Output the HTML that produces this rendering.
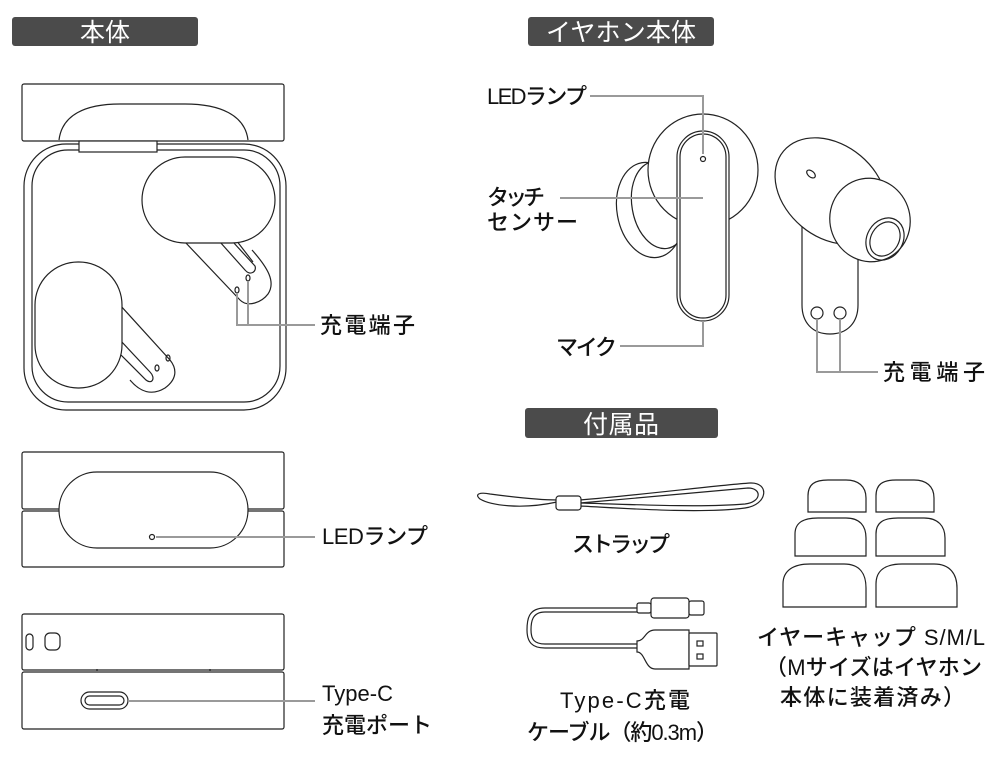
<!DOCTYPE html>
<html><head><meta charset="utf-8"><style>
html,body{margin:0;padding:0;background:#fff;width:1000px;height:765px;overflow:hidden}
svg{display:block}
text{font-family:"Liberation Sans","Noto Sans CJK JP",sans-serif;font-size:22px;fill:#111;font-weight:500}
.h{fill:#fff;font-size:25px;text-anchor:middle;font-weight:400}
.o{fill:none;stroke:#222;stroke-width:1.2}
.w{fill:#fff;stroke:#222;stroke-width:1.2}
.c{fill:none;stroke:#9a9a9a;stroke-width:2}
</style></head><body>
<svg width="1000" height="765" viewBox="0 0 1000 765">
<rect x="12" y="17" width="186" height="29" rx="3" fill="#4b4b4b"/>
<text class="h" x="105" y="41" textLength="50">本体</text>
<rect x="528" y="17" width="186" height="29" rx="3" fill="#4b4b4b"/>
<text class="h" x="621" y="41" textLength="150">イヤホン本体</text>
<rect x="525" y="408" width="193" height="30" rx="3" fill="#4b4b4b"/>
<text class="h" x="621" y="433" textLength="76">付属品</text>

<rect class="o" x="22" y="84" width="262" height="57" rx="2"/>
<path class="o" d="M59 140 C62 115 85 104 120 104 L185 104 C220 104 245 115 248 140"/>
<rect class="o" x="24" y="144" width="262" height="266" rx="42"/>
<rect class="o" x="32" y="150" width="248" height="252" rx="36"/>
<rect class="w" x="79" y="141" width="78" height="11"/>
<path class="o" d="M185 242 L240 300 C248 308 262 302 268 294 C276 282 268 268 252 250"/>
<path class="o" d="M220 242 L245 270 C250 276 257 272 255 266 L233 242"/>
<path class="o" d="M236 240 L253 262"/>
<rect class="w" x="142" y="157" width="133" height="86" rx="43"/>
<ellipse class="o" cx="237" cy="290" rx="2" ry="3"/>
<ellipse class="o" cx="248" cy="278" rx="2" ry="3"/>
<path class="o" d="M120 305 L170 360 C178 370 176 380 165 388 C152 396 140 392 130 380"/>
<path class="o" d="M120 340 L150 372 C156 378 152 385 146 380 L118 352"/>
<rect class="w" x="35" y="262" width="87" height="126" rx="43"/>
<ellipse class="o" cx="157" cy="368" rx="2" ry="3"/>
<ellipse class="o" cx="168" cy="358" rx="2" ry="3"/>
<path class="c" d="M237 293 V325 H315 M248 281 V325"/>
<text x="320" y="333" textLength="95">充電端子</text>

<rect class="o" x="22" y="452" width="262" height="57" rx="2"/>
<rect class="o" x="22" y="511" width="262" height="56" rx="2"/>
<rect class="w" x="59" y="472" width="189" height="76" rx="38"/>
<circle class="o" cx="152" cy="537" r="2.5"/>
<path class="c" d="M156 537 H315"/>
<text x="322" y="544" textLength="106">LEDランプ</text>

<rect class="o" x="22" y="614" width="262" height="56" rx="2"/>
<rect class="o" x="22" y="672" width="262" height="57" rx="2"/>
<path class="o" d="M97 671 V669 M210 671 V669"/>
<rect class="o" x="26" y="634" width="7" height="16" rx="3.5"/>
<rect class="o" x="45" y="633" width="15" height="17" rx="5"/>
<rect class="o" x="81" y="692" width="47" height="17" rx="8.5"/>
<rect class="o" x="85" y="696" width="39" height="9" rx="4.5"/>
<path class="c" d="M128 701 H315"/>
<text x="322" y="701" textLength="71">Type-C</text>
<text x="322" y="733" textLength="110">充電ポート</text>

<ellipse class="w" cx="650" cy="210" rx="33" ry="48" transform="rotate(-10 650 210)"/>
<ellipse class="o" cx="660" cy="205" rx="28" ry="44" transform="rotate(-10 660 205)"/>
<ellipse class="w" cx="703" cy="170" rx="55" ry="56"/>
<rect class="w" x="677" y="131" width="52" height="190" rx="26"/>
<rect class="o" x="680" y="134" width="46" height="184" rx="23"/>
<circle class="o" cx="703" cy="159" r="2.5"/>
<path class="c" d="M590 96 H703 V154 M560 198 H703 M620 346 H703 V321"/>
<text x="487" y="104" textLength="100">LEDランプ</text>
<text x="487" y="205" textLength="58">タッチ</text>
<text x="487" y="230" textLength="91">センサー</text>
<text x="556" y="355" textLength="61">マイク</text>

<path class="w" d="M802 225 V305 C802 322 812 334 830 334 C848 334 858 322 858 305 V240 Z"/>
<ellipse class="w" cx="831" cy="191" rx="62" ry="46" transform="rotate(40 831 191)"/>
<ellipse class="w" cx="870" cy="220" rx="40" ry="42" transform="rotate(-20 870 220)"/>
<ellipse class="o" cx="885" cy="239" rx="18" ry="22" transform="rotate(30 885 239)"/>
<ellipse class="o" cx="885" cy="239" rx="14" ry="18" transform="rotate(30 885 239)"/>
<ellipse class="o" cx="811" cy="174" rx="3" ry="5" transform="rotate(-50 811 174)"/>
<circle class="o" cx="817" cy="313" r="6"/>
<circle class="o" cx="840" cy="313" r="6"/>
<path class="c" d="M817 319 V372 H878 M840 319 V372"/>
<text x="883" y="380" textLength="102">充電端子</text>

<path class="o" d="M557 502 C520 510 490 505 480 499 C474 494 480 492 490 494 C520 498 540 500 557 500"/>
<path class="o" d="M580 500 C640 495 720 485 750 483 C770 482 768 505 745 508 C700 514 620 508 580 506"/>
<path class="o" d="M580 503 C640 498 720 490 748 488 C762 488 762 502 745 504 C700 508 620 504 580 503"/>
<rect class="w" x="556" y="496" width="25" height="14" rx="3"/>
<text x="572" y="552" textLength="98">ストラップ</text>

<path class="o" d="M637 608 H545 C528 608 527 620 527 630 C527 642 532 648 545 648 H637"/>
<path class="o" d="M637 612 H545 C532 612 531 622 531 630 C531 640 535 644 545 644 H637"/>
<rect class="w" x="637" y="603" width="14" height="10" rx="2"/>
<rect class="w" x="651" y="598" width="38" height="20" rx="3"/>
<rect class="w" x="689" y="601" width="15" height="14" rx="2"/>
<path class="w" d="M637 641 C645 641 645 630 655 630 H689 V669 H655 C645 669 645 652 637 652 Z"/>
<rect class="w" x="689" y="633" width="28" height="33" rx="1"/>
<rect class="o" x="697" y="641" width="6" height="5"/>
<rect class="o" x="697" y="654" width="6" height="5"/>
<text x="560" y="708" textLength="130">Type-C充電</text>
<text x="527" y="740" textLength="191">ケーブル（約0.3m）</text>

<path class="o" d="M808 512 V496 C808 484 815 480 828 480 H846 C858 480 866 486 866 498 V512 Z"/>
<path class="o" d="M876 512 V496 C876 484 883 480 896 480 H914 C926 480 934 486 934 498 V512 Z"/>
<path class="o" d="M795 556 V534 C795 522 804 518 818 518 H846 C860 518 866 526 866 538 V556 Z"/>
<path class="o" d="M876 556 V534 C876 522 884 518 898 518 H924 C938 518 945 526 945 538 V556 Z"/>
<path class="o" d="M783 607 V584 C783 570 794 564 810 564 H844 C860 564 866 574 866 588 V607 Z"/>
<path class="o" d="M876 607 V584 C876 570 886 564 902 564 H934 C950 564 957 574 957 588 V607 Z"/>
<text x="757" y="645" textLength="228">イヤーキャップ S/M/L</text>
<text x="765" y="675" textLength="217">（Mサイズはイヤホン</text>
<text x="780" y="705" textLength="185">本体に装着済み）</text>
</svg>
</body></html>
